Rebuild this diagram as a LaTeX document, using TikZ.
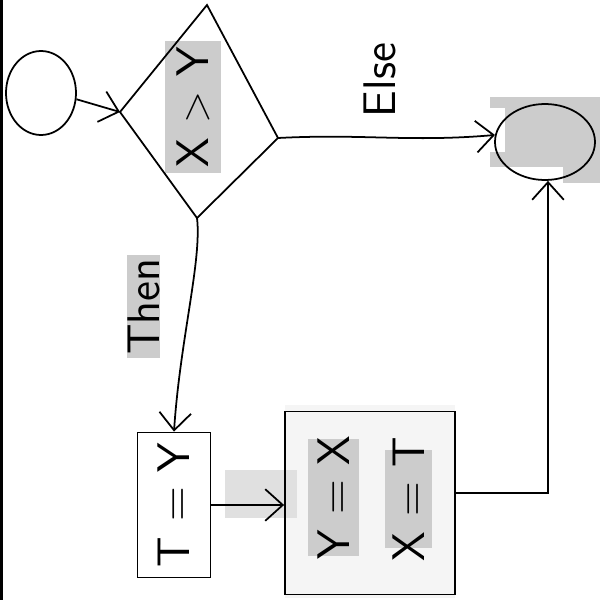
\documentclass[tikz,border=0pt]{standalone}
\usepackage{amsmath}
\usetikzlibrary{arrows.meta,shapes.geometric}

\tikzset{
  hand/.style={line width=0.5pt},
  flow/.style={hand,-{Straight Barb[length=5pt,width=9pt]}},
  hilite/.style={fill=black!20},
  txt/.style={rotate=90,font=\sffamily\fontsize{13}{13}\selectfont}
}

\begin{document}
\begin{tikzpicture}
\useasboundingbox (0,0) rectangle (6,-6);
\fill[white] (0,0) rectangle (6,-6);
\fill[black] (0,0) rectangle (0.03,-6);
% shaded backdrops
\fill[black!4] (2.85,-4.05) rectangle (4.55,-5.98);
\fill[black!12] (2.25,-4.70) rectangle (2.97,-5.18);
\fill[hilite] (4.90,-0.97) rectangle (6,-1.83);
\fill[white] (4.90,-1.08) rectangle (5.05,-1.52);
\fill[white] (4.55,-1.67) rectangle (5.63,-1.83);
\fill[hilite] (1.65,-0.41) rectangle (2.21,-1.73);
\fill[hilite] (1.27,-2.55) rectangle (1.60,-3.58);
\fill[hilite] (3.08,-4.39) rectangle (3.59,-5.56);
\fill[hilite] (3.85,-4.50) rectangle (4.32,-5.48);

% start and end
\node[draw,hand,ellipse,minimum width=0.70cm,minimum height=0.84cm] (start) at (0.41,-0.93) {};
\node[draw,hand,ellipse,minimum width=1.0cm,minimum height=0.76cm] (end) at (5.45,-1.42) {};

% test
\coordinate (dtop) at (2.07,-0.05);
\coordinate (dleft) at (1.20,-1.12);
\coordinate (dright) at (2.78,-1.38);
\coordinate (dbot) at (1.97,-2.18);
\draw[hand] (dtop) -- (dright) -- (dbot) -- (dleft) -- cycle;
\node[txt] (cond) at (1.93,-1.07) {X $>$ Y};

% assignments
\node[draw,hand,minimum width=0.73cm,minimum height=1.45cm] (tmp) at (1.74,-5.05) {};
\node[txt] at (tmp) {T = Y};
\node[draw,hand,minimum width=1.70cm,minimum height=1.83cm] (swap) at (3.70,-5.03) {};
\node[txt] (swapa) at (3.335,-4.975) {Y = X};
\node[txt] (swapb) at (4.085,-4.99) {X = T};

% labels
\node[txt] (then) at (1.435,-3.065) {Then};
\node[txt] (else) at (3.80,-0.80) {Else};

% connectors
\draw[flow] (start.-10) -- (dleft);
\draw[flow] (dright) to[out=3,in=185] (end.172);
\draw[flow] (dbot) .. controls (2.02,-2.6) and (1.80,-3.4) .. (tmp.north);
\draw[flow] (tmp.east) -- (tmp.east -| swap.west);
\draw[flow] ([yshift=0.1cm]swap.east) -| ([xshift=0.03cm]end.south);
\end{tikzpicture}
\end{document}
